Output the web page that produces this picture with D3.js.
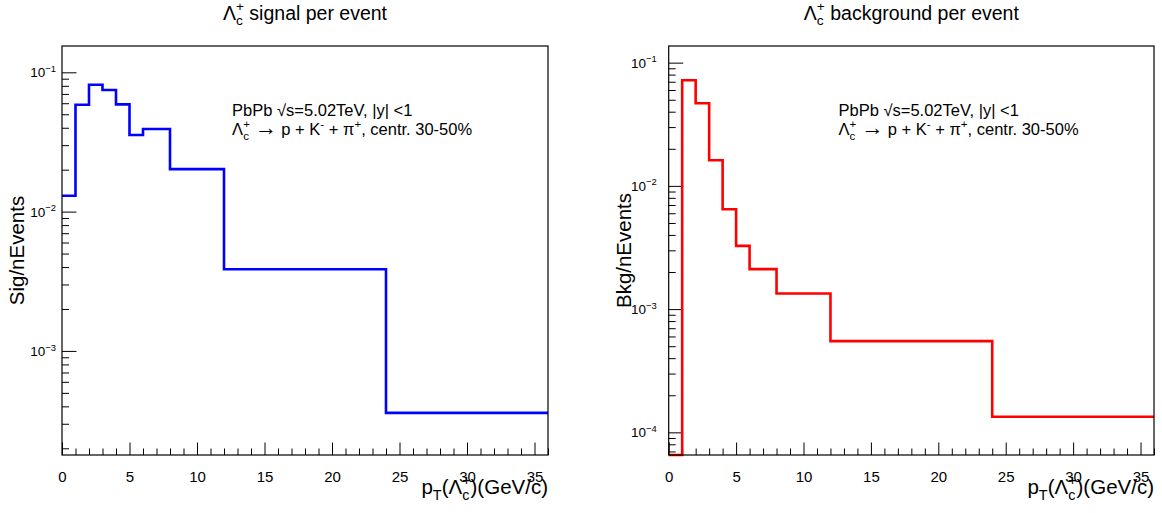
<!DOCTYPE html>
<html>
<head>
<meta charset="utf-8">
<script src="https://cdn.jsdelivr.net/npm/d3@7"></script>
<style>
  body { margin: 0; background: #fff; }
  text { font-family: "Liberation Sans", Arial, Helvetica, sans-serif; fill: #000; }
</style>
</head>
<body>
<svg id="chart" width="1162" height="513"></svg>
<script>
// bin edges in pT (GeV/c)
const binEdges = [0, 1, 2, 3, 4, 5, 6, 8, 12, 24, 36];
// signal per event, one value per bin
const sigValues = [0.0130, 0.0585, 0.0815, 0.0746, 0.0589, 0.0355, 0.0392, 0.0202, 0.00386, 0.000359];
// background per event, one value per bin
const bkgValues = [0, 0.0720, 0.0469, 0.01616, 0.00647, 0.00326, 0.00211, 0.00134, 0.00055, 0.000134];
// axis ranges
const xRange = [0, 36];
const sigYRange = [1.79e-4, 0.1545];
const bkgYRange = [6.55e-5, 0.1365];
const xTicksMajor = [0, 5, 10, 15, 20, 25, 30, 35];

const svg = d3.select("#chart");

// draws text with ROOT-like sub/superscripts
function rich(sel, parts, fs) {
  let shift = 0;
  parts.forEach(p => {
    if (typeof p === "string") {
      sel.append("tspan").attr("font-size", fs).attr("dy", -shift).text(p);
      shift = 0;
    } else if (p.big) {
      sel.append("tspan").attr("font-size", fs * p.scale).attr("dy", -shift).text(p.big);
      shift = 0;
    } else if (p.sup && p.sub) {
      const s = sel.append("tspan").attr("font-size", fs * 0.7).attr("dy", fs * 0.28 - shift).text(p.sub);
      shift = fs * 0.28;
      const w = s.node().getComputedTextLength();
      sel.append("tspan").attr("font-size", fs * 0.7).attr("dx", -w).attr("dy", -fs * 0.45 - shift).text(p.sup);
      shift = -fs * 0.45;
    } else if (p.sup) {
      sel.append("tspan").attr("font-size", fs * 0.7).attr("dy", -fs * 0.4 - shift).text(p.sup);
      shift = -fs * 0.4;
    } else if (p.sub) {
      sel.append("tspan").attr("font-size", fs * 0.7).attr("dy", fs * 0.3 - shift).text(p.sub);
      shift = fs * 0.3;
    }
  });
  if (shift !== 0) sel.append("tspan").attr("dy", -shift).text("");
}

const lambdaC = ["\u039b", {sub: "c", sup: "+"}];

function panel(opt) {
  const x = d3.scaleLinear().domain(xRange).range([opt.left, opt.right]);
  const y = d3.scaleLog().domain(opt.yRange).range([opt.bottom, opt.top]);
  const g = svg.append("g");

  // y ticks: majors at decades, minors at 2..9
  const lo = Math.floor(Math.log10(opt.yRange[0])), hi = Math.ceil(Math.log10(opt.yRange[1]));
  const majors = [], minors = [];
  for (let k = lo; k <= hi; k++) {
    for (let m = 1; m <= 9; m++) {
      const v = m * Math.pow(10, k);
      if (v < opt.yRange[0] || v > opt.yRange[1]) continue;
      if (m === 1) majors.push(k); else minors.push(v);
    }
  }

  g.append("g")
    .attr("transform", `translate(${opt.left},0)`)
    .call(d3.axisLeft(y).tickValues(minors).tickSize(-7).tickFormat(""))
    .call(a => a.select(".domain").remove());
  g.append("g")
    .attr("transform", `translate(${opt.left},0)`)
    .call(d3.axisLeft(y).tickValues(majors.map(k => Math.pow(10, k))).tickSize(-14.5).tickFormat(""))
    .call(a => a.select(".domain").remove());

  majors.forEach(k => {
    const t = g.append("text")
      .attr("x", opt.left - opt.labelGap)
      .attr("y", y(Math.pow(10, k)) + 5)
      .attr("text-anchor", "end");
    rich(t, ["10", {sup: "\u2212" + (-k)}], 13.5);
  });

  // x ticks
  const xMinor = d3.range(xRange[0], xRange[1] + 1).filter(v => v % 5 !== 0);
  g.append("g")
    .attr("transform", `translate(0,${opt.bottom})`)
    .call(d3.axisBottom(x).tickValues(xMinor).tickSize(-6.5).tickFormat(""))
    .call(a => a.select(".domain").remove());
  g.append("g")
    .attr("transform", `translate(0,${opt.bottom})`)
    .call(d3.axisBottom(x).tickValues(xTicksMajor).tickSize(-12.5).tickPadding(16).tickFormat(d3.format("d")))
    .call(a => a.select(".domain").remove())
    .call(a => a.selectAll("text").attr("font-size", 15).attr("fill", "#000")
      .attr("font-family", "Liberation Sans, Arial, sans-serif"));

  g.selectAll(".tick line").attr("stroke", "#000");

  // histogram outline
  const pts = [];
  opt.values.forEach((v, i) => {
    const vv = Math.max(v, opt.yRange[0]);
    pts.push([binEdges[i], vv], [binEdges[i + 1], vv]);
  });
  const line = d3.line().x(d => x(d[0])).y(d => y(d[1]));
  g.append("path")
    .datum(pts)
    .attr("fill", "none")
    .attr("stroke", opt.color)
    .attr("stroke-width", 2.6)
    .attr("stroke-linejoin", "miter")
    .attr("d", line);

  // frame
  g.append("rect")
    .attr("x", opt.left).attr("y", opt.top)
    .attr("width", opt.right - opt.left).attr("height", opt.bottom - opt.top)
    .attr("fill", "none").attr("stroke", "#000").attr("stroke-width", 1.2);

  // title
  const title = g.append("text")
    .attr("x", (opt.left + opt.right) / 2).attr("y", 19.5)
    .attr("text-anchor", "middle");
  rich(title, lambdaC.concat([" " + opt.title]), 19.5);

  // axis titles
  g.append("text")
    .attr("transform", `translate(${opt.yTitleX},${(opt.top + opt.bottom) / 2}) rotate(-90)`)
    .attr("text-anchor", "middle")
    .attr("font-size", 20.5)
    .text(opt.yTitle);
  const xt = g.append("text")
    .attr("x", opt.right).attr("y", 494)
    .attr("text-anchor", "end");
  rich(xt, ["p", {sub: "T"}, "(\u039b", {sub: "c", sup: "+"}, ")(GeV/c)"], 20.5);

  // legend text
  const lx = x(opt.legendX);
  const l1 = g.append("text").attr("x", lx).attr("y", 116);
  rich(l1, ["PbPb \u221as=5.02TeV, |y| <1"], 16.5);
  const l2 = g.append("text").attr("x", lx).attr("y", 135);
  rich(l2, lambdaC.concat([" ", {big: "\u2192", scale: 1.35}, " p + K", {sup: "-"}, " + \u03c0", {sup: "+"}, ", centr. 30-50%"]), 16.5);
}

panel({
  left: 62, right: 548, top: 46, bottom: 455,
  yRange: sigYRange, values: sigValues, color: "#0000ff",
  title: "signal per event", yTitle: "Sig/nEvents", yTitleX: 24,
  labelGap: 6, legendX: 12.6
});

panel({
  left: 668.7, right: 1154, top: 46, bottom: 455,
  yRange: bkgYRange, values: bkgValues, color: "#ff0000",
  title: "background per event", yTitle: "Bkg/nEvents", yTitleX: 631,
  labelGap: 12, legendX: 12.6
});
</script>
</body>
</html>
